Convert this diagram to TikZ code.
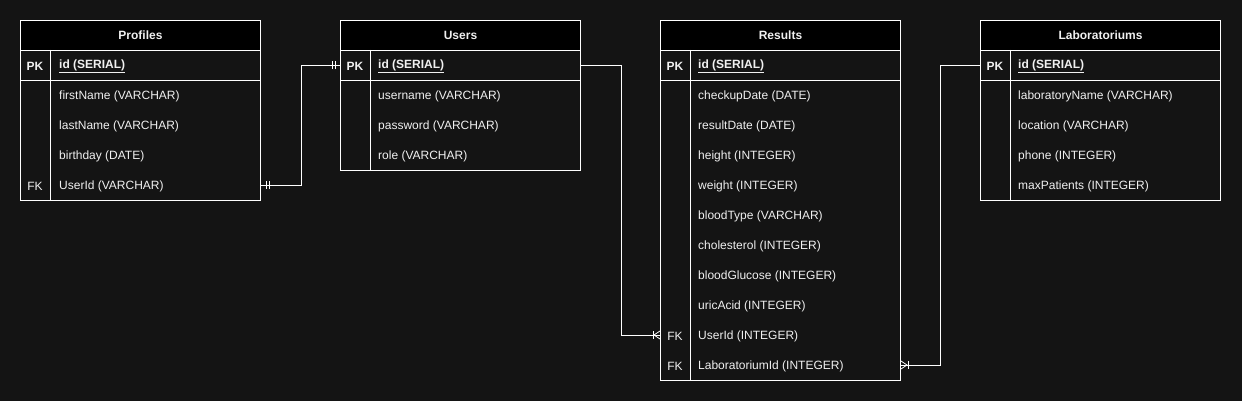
\documentclass[tikz,border=0pt]{standalone}
\usepackage{fontspec}
\setmainfont{Liberation Sans}
\usetikzlibrary{calc}
\definecolor{bg}{HTML}{141414}
\definecolor{txt}{HTML}{F0F0F0}
\begin{document}
\begin{tikzpicture}[x=1pt,y=-1pt,
  line/.style={draw=white, line width=1pt},
  hdr/.style={line, fill=black, minimum width=240pt, minimum height=30pt, inner sep=0pt, anchor=north west, text=txt, font=\fontsize{12}{14}\selectfont\bfseries},
  pkrow/.style={line, minimum width=240pt, minimum height=30pt, inner sep=0pt, anchor=north west},
  bodybox/.style={line, minimum width=240pt, inner sep=0pt, anchor=north west},
  keyt/.style={text=txt, inner sep=0pt, yshift=-1pt, font=\fontsize{12}{14}\selectfont},
  fldt/.style={text=txt, inner sep=0pt, yshift=-1pt, anchor=west, font=\fontsize{12}{14}\selectfont},
  conn/.style={draw=white, line width=1pt},
  tick/.style={draw=white, line width=0.8pt}
]
\useasboundingbox (0,0) rectangle (1242,401);
\fill[bg] (0,0) rectangle (1242,401);

% ---------- Profiles ----------
\node[hdr] (prof) at (20,20) {Profiles};
\node[pkrow] (prof-pk) at (20,50) {};
\node[bodybox, minimum height=120pt] (prof-body) at (20,80) {};
\draw[line] ($(prof-pk.north west)+(30,0)$) -- ($(prof-body.south west)+(30,0)$);
\node[keyt, font=\fontsize{12}{14}\selectfont\bfseries] (prof-pkk) at ($(prof-pk.west)+(15,0)$) {PK};
\node[fldt, font=\fontsize{12}{14}\selectfont\bfseries] (prof-id) at ($(prof-pk.west)+(39,0)$) {\underline{id (SERIAL)}};
\node[fldt] (prof-fn) at (59,95) {firstName (VARCHAR)};
\node[fldt] (prof-ln) at (59,125) {lastName (VARCHAR)};
\node[fldt] (prof-bd) at (59,155) {birthday (DATE)};
\node[keyt] (prof-fk) at (35,185) {FK};
\node[fldt] (prof-uid) at (59,185) {UserId (VARCHAR)};

% ---------- Users ----------
\node[hdr] (users) at (340,20) {Users};
\node[pkrow] (users-pk) at (340,50) {};
\node[bodybox, minimum height=90pt] (users-body) at (340,80) {};
\draw[line] ($(users-pk.north west)+(30,0)$) -- ($(users-body.south west)+(30,0)$);
\node[keyt, font=\fontsize{12}{14}\selectfont\bfseries] (users-pkk) at ($(users-pk.west)+(15,0)$) {PK};
\node[fldt, font=\fontsize{12}{14}\selectfont\bfseries] (users-id) at ($(users-pk.west)+(38,0)$) {\underline{id (SERIAL)}};
\node[fldt] (users-un) at (378,95) {username (VARCHAR)};
\node[fldt] (users-pw) at (378,125) {password (VARCHAR)};
\node[fldt] (users-role) at (378,155) {role (VARCHAR)};

% ---------- Results ----------
\node[hdr] (res) at (660,20) {Results};
\node[pkrow] (res-pk) at (660,50) {};
\node[bodybox, minimum height=300pt] (res-body) at (660,80) {};
\draw[line] ($(res-pk.north west)+(30,0)$) -- ($(res-body.south west)+(30,0)$);
\node[keyt, font=\fontsize{12}{14}\selectfont\bfseries] (res-pkk) at ($(res-pk.west)+(15,0)$) {PK};
\node[fldt, font=\fontsize{12}{14}\selectfont\bfseries] (res-id) at ($(res-pk.west)+(38,0)$) {\underline{id (SERIAL)}};
\node[fldt] (res-cd) at (698,95) {checkupDate (DATE)};
\node[fldt] (res-rd) at (698,125) {resultDate (DATE)};
\node[fldt] (res-h) at (698,155) {height (INTEGER)};
\node[fldt] (res-w) at (698,185) {weight (INTEGER)};
\node[fldt] (res-bt) at (698,215) {bloodType (VARCHAR)};
\node[fldt] (res-ch) at (698,245) {cholesterol (INTEGER)};
\node[fldt] (res-bg) at (698,275) {bloodGlucose (INTEGER)};
\node[fldt] (res-ua) at (698,305) {uricAcid (INTEGER)};
\node[keyt] (res-fk1) at (675,335) {FK};
\node[fldt] (res-uid) at (698,335) {UserId (INTEGER)};
\node[keyt] (res-fk2) at (675,365) {FK};
\node[fldt] (res-labid) at (698,365) {LaboratoriumId (INTEGER)};

% ---------- Laboratoriums ----------
\node[hdr] (lab) at (980,20) {Laboratoriums};
\node[pkrow] (lab-pk) at (980,50) {};
\node[bodybox, minimum height=120pt] (lab-body) at (980,80) {};
\draw[line] ($(lab-pk.north west)+(30,0)$) -- ($(lab-body.south west)+(30,0)$);
\node[keyt, font=\fontsize{12}{14}\selectfont\bfseries] (lab-pkk) at ($(lab-pk.west)+(15,0)$) {PK};
\node[fldt, font=\fontsize{12}{14}\selectfont\bfseries] (lab-id) at ($(lab-pk.west)+(38,0)$) {\underline{id (SERIAL)}};
\node[fldt] (lab-ln) at (1018,95) {laboratoryName (VARCHAR)};
\node[fldt] (lab-loc) at (1018,125) {location (VARCHAR)};
\node[fldt] (lab-ph) at (1018,155) {phone (INTEGER)};
\node[fldt] (lab-mp) at (1018,185) {maxPatients (INTEGER)};

% ---------- Connectors ----------
\coordinate (c1a) at ($(prof-body.east |- prof-uid)+(0,-1)$);
\coordinate (c1b) at (users-pk.west);
\draw[conn] (c1a) -- ++(40,0) |- (c1b);
\draw[tick] ($(c1a)+(5,-4)$) -- ++(0,8);
\draw[tick] ($(c1a)+(8,-4)$) -- ++(0,8);
\draw[tick] ($(c1b)+(-8,-4)$) -- ++(0,8);
\draw[tick] ($(c1b)+(-5,-4)$) -- ++(0,8);

\coordinate (c2a) at (users-pk.east);
\coordinate (c2b) at ($(res-body.west |- res-uid)+(0,-1)$);
\draw[conn] (c2a) -- ++(40,0) |- (c2b);
\draw[tick] ($(c2b)+(-7,-4)$) -- ++(0,8);
\draw[tick] ($(c2b)+(0,-4)$) -- ($(c2b)+(-6,0)$) -- ($(c2b)+(0,4)$);

\coordinate (c3a) at (lab-pk.west);
\coordinate (c3b) at ($(res-body.east |- res-labid)+(0,-1)$);
\draw[conn] (c3a) -- ++(-40,0) |- (c3b);
\draw[tick] ($(c3b)+(7,-4)$) -- ++(0,8);
\draw[tick] ($(c3b)+(0,-4)$) -- ($(c3b)+(6,0)$) -- ($(c3b)+(0,4)$);
\end{tikzpicture}
\end{document}
